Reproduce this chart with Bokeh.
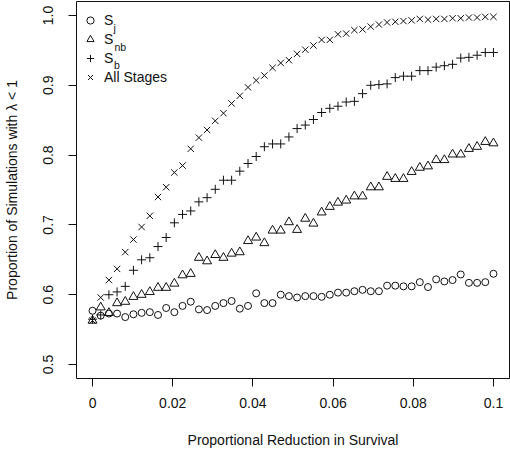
from bokeh.plotting import figure
from bokeh.models import FixedTicker, Legend, LegendItem, Label, Range1d
from bokeh.embed import file_html
from bokeh.resources import INLINE

# ---------------- data ----------------
x_vals = [0.0, 0.00204, 0.00408, 0.00612, 0.00816, 0.01020, 0.01224, 0.01429,
          0.01633, 0.01837, 0.02041, 0.02245, 0.02449, 0.02653, 0.02857, 0.03061,
          0.03265, 0.03469, 0.03673, 0.03878, 0.04082, 0.04286, 0.04490, 0.04694,
          0.04898, 0.05102, 0.05306, 0.05510, 0.05714, 0.05918, 0.06122, 0.06327,
          0.06531, 0.06735, 0.06939, 0.07143, 0.07347, 0.07551, 0.07755, 0.07959,
          0.08163, 0.08367, 0.08571, 0.08776, 0.08980, 0.09184, 0.09388, 0.09592,
          0.09796, 0.10000]

s_j = [0.577, 0.570, 0.573, 0.573, 0.568, 0.572, 0.574, 0.575, 0.571, 0.581,
       0.575, 0.584, 0.590, 0.579, 0.578, 0.584, 0.588, 0.591, 0.580, 0.584,
       0.602, 0.588, 0.588, 0.600, 0.598, 0.596, 0.598, 0.598, 0.597, 0.600,
       0.603, 0.603, 0.605, 0.607, 0.605, 0.605, 0.613, 0.613, 0.612, 0.612,
       0.618, 0.611, 0.622, 0.619, 0.621, 0.629, 0.617, 0.617, 0.618, 0.630]

s_nb = [0.563, 0.582, 0.574, 0.588, 0.590, 0.597, 0.600, 0.604, 0.610, 0.610,
        0.616, 0.628, 0.630, 0.653, 0.648, 0.657, 0.653, 0.659, 0.661, 0.677,
        0.682, 0.674, 0.692, 0.692, 0.704, 0.693, 0.709, 0.702, 0.718, 0.726,
        0.732, 0.735, 0.741, 0.741, 0.754, 0.754, 0.769, 0.766, 0.766, 0.776,
        0.782, 0.784, 0.793, 0.793, 0.801, 0.801, 0.809, 0.812, 0.819, 0.817]

s_b = [0.565, 0.571, 0.600, 0.604, 0.612, 0.635, 0.650, 0.653, 0.669, 0.682,
       0.703, 0.715, 0.720, 0.733, 0.739, 0.751, 0.764, 0.764, 0.777, 0.788,
       0.798, 0.812, 0.816, 0.816, 0.826, 0.838, 0.843, 0.851, 0.861, 0.867,
       0.870, 0.876, 0.877, 0.888, 0.900, 0.901, 0.902, 0.911, 0.913, 0.913,
       0.921, 0.921, 0.926, 0.928, 0.930, 0.939, 0.940, 0.943, 0.947, 0.947]

all_stages = [0.563, 0.596, 0.621, 0.637, 0.661, 0.679, 0.697, 0.713, 0.740, 0.754,
              0.775, 0.785, 0.809, 0.825, 0.836, 0.849, 0.860, 0.874, 0.885, 0.897,
              0.907, 0.914, 0.925, 0.932, 0.936, 0.945, 0.951, 0.957, 0.965, 0.965,
              0.973, 0.974, 0.979, 0.980, 0.984, 0.987, 0.990, 0.991, 0.992, 0.993,
              0.995, 0.994, 0.995, 0.995, 0.996, 0.996, 0.997, 0.997, 0.998, 0.998]

x_ticks = [0.0, 0.02, 0.04, 0.06, 0.08, 0.1]
x_tick_labels = ["0", "0.02", "0.04", "0.06", "0.08", "0.1"]
y_ticks = [0.5, 0.6, 0.7, 0.8, 0.9, 1.0]
y_tick_labels = ["0.5", "0.6", "0.7", "0.8", "0.9", "1.0"]

legend_main = ["S", "S", "S", "All Stages"]
legend_sub = ["j", "nb", "b", ""]

x_title = "Proportional Reduction in Survival"
y_title = "Proportion of Simulations with \u03bb < 1"

# ---------------- figure ----------------
FONT = "Liberation Sans"
INK = "#111111"

p = figure(width=510, height=453, output_backend="svg", toolbar_location=None,
           x_range=Range1d(-0.004, 0.104), y_range=Range1d(0.48, 1.02),
           min_border_left=76, min_border_right=1, min_border_top=1,
           min_border_bottom=75)
p.xgrid.visible = False
p.ygrid.visible = False
p.outline_line_color = INK
p.outline_line_width = 1
p.outline_line_alpha = 1

for ax, ticks, labels, title in ((p.xaxis[0], x_ticks, x_tick_labels, x_title),
                                  (p.yaxis[0], y_ticks, y_tick_labels, y_title)):
    ax.ticker = FixedTicker(ticks=ticks, minor_ticks=[])
    ax.major_label_overrides = {t: l for t, l in zip(ticks, labels)}
    ax.axis_line_color = None
    ax.major_tick_out = 8
    ax.major_tick_in = 0
    ax.major_tick_line_color = INK
    ax.minor_tick_line_color = None
    ax.major_label_text_font = FONT
    ax.major_label_text_font_size = "14px"
    ax.major_label_text_color = INK
    ax.axis_label = title
    ax.axis_label_text_font = FONT
    ax.axis_label_text_font_size = "14px"
    ax.axis_label_text_font_style = "normal"
    ax.axis_label_text_color = INK

p.xaxis.major_label_standoff = 11
p.xaxis.axis_label_standoff = 21
p.yaxis.major_label_orientation = "vertical"
p.yaxis.major_label_standoff = 15
p.yaxis.axis_label_standoff = 21

common = dict(fill_color=None, line_color=INK, line_width=1)
r_j = p.scatter(x_vals, s_j, marker="circle", size=7, **common)
r_nb = p.scatter(x_vals, s_nb, marker="triangle", size=9, **common)
r_b = p.scatter(x_vals, s_b, marker="cross", size=9, **common)
r_all = p.scatter(x_vals, all_stages, marker="x", size=9, **common)

legend = Legend(
    items=[LegendItem(label=t, renderers=[r]) for t, r in
           zip(legend_main, [r_j, r_nb, r_b, r_all])],
    location=(5, 292), border_line_color=None, background_fill_alpha=0,
    label_text_font=FONT, label_text_font_size="14px", label_text_color=INK,
    glyph_width=18, glyph_height=18, label_height=18, spacing=1,
    padding=0, margin=0, label_standoff=5)
p.add_layout(legend)

sub_x = [37, 38, 37.5]
sub_y = [350.5, 332, 314]
for sub, sx, sy in zip(legend_sub, sub_x, sub_y):
    p.add_layout(Label(x=sx, y=sy, x_units="screen", y_units="screen",
                       text=sub, text_font=FONT, text_font_size="10.5px",
                       text_color=INK, text_baseline="alphabetic"))

open("out.html", "w").write(file_html(p, INLINE))
